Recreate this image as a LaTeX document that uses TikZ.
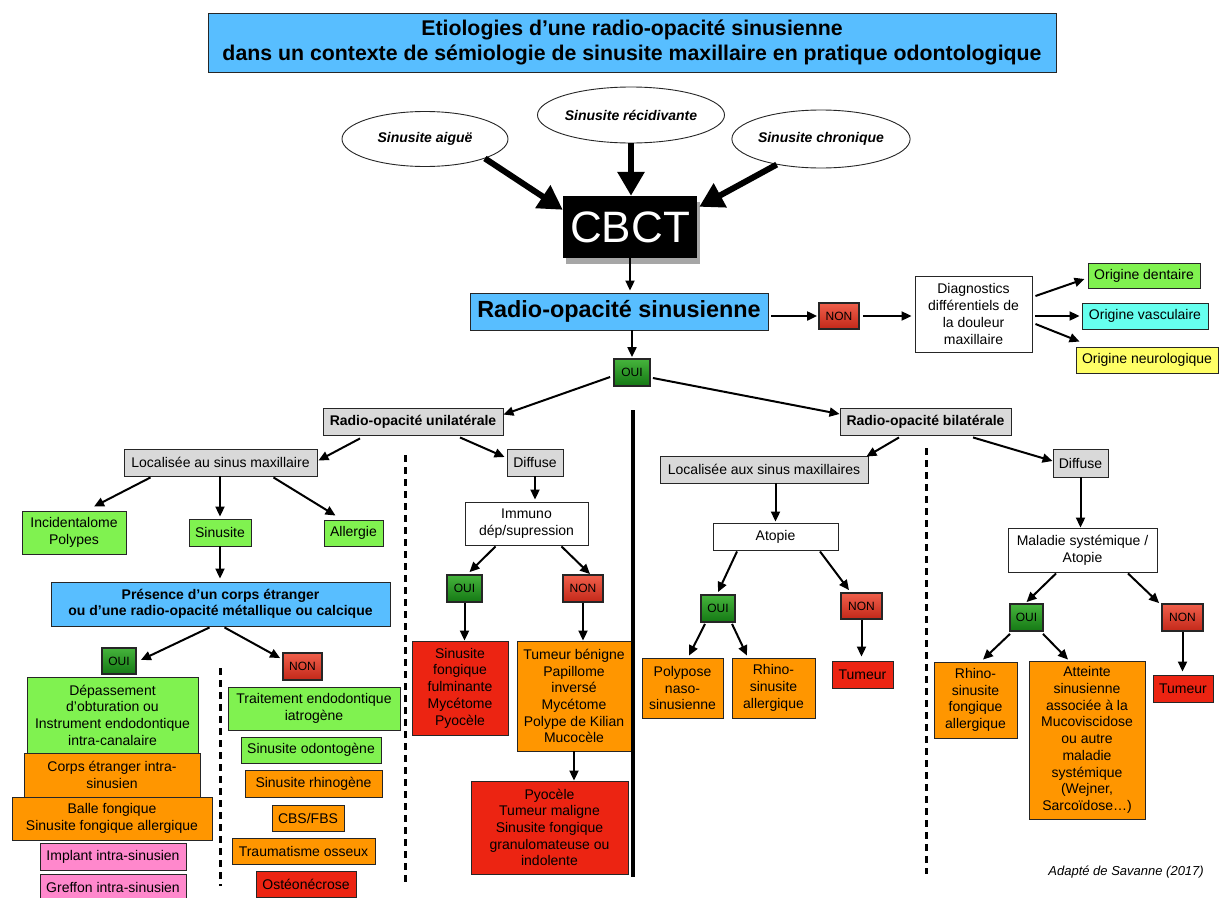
\documentclass[tikz,border=0pt]{standalone}
\usepackage{fontspec}
\setmainfont{Liberation Sans}
\usetikzlibrary{arrows.meta,shapes.geometric,shadows,calc}
\definecolor{cblue}{RGB}{88,190,255}
\definecolor{cgray}{RGB}{217,217,217}
\definecolor{cgreen}{RGB}{128,242,80}
\definecolor{corange}{RGB}{255,150,0}
\definecolor{cred}{RGB}{236,36,18}
\definecolor{cpink}{RGB}{255,136,204}
\definecolor{ccyan}{RGB}{102,255,238}
\definecolor{cyellow}{RGB}{255,255,102}
\definecolor{ouit}{RGB}{70,180,60}
\definecolor{ouib}{RGB}{20,120,20}
\definecolor{nont}{RGB}{240,95,75}
\definecolor{nonb}{RGB}{195,40,25}
\newcommand{\fs}{\fontsize{14}{16.7}\selectfont}
\begin{document}
\begin{tikzpicture}[x=1pt,y=-1pt,
  bx/.style={draw=black!85,line width=0.9pt,inner sep=1pt,align=center,font=\fs},
  bgreen/.style={bx,fill=cgreen},
  borange/.style={bx,fill=corange},
  bred/.style={bx,fill=cred},
  bpink/.style={bx,fill=cpink},
  bgray/.style={bx,fill=cgray},
  bblue/.style={bx,fill=cblue},
  bwhite/.style={bx,fill=white},
  yn/.style={draw=black!85,line width=1.8pt,inner sep=0pt,font=\fontsize{12}{13}\selectfont},
  oui/.style={yn,top color=ouit,bottom color=ouib},
  non/.style={yn,top color=nont,bottom color=nonb},
  arr/.style={line width=2pt,-{Triangle[length=10pt,width=9pt]}},
  tarr/.style={line width=6pt,-{Triangle[length=24pt,width=26pt]}},
  ell/.style={ellipse,draw=black!85,line width=0.9pt,fill=white,font=\fontsize{14}{16}\selectfont\bfseries\itshape,inner sep=0pt},
  sz/.style 2 args={minimum width=#1,minimum height=#2}
]
\fill[white] (0,0) rectangle (1220,897);
\useasboundingbox (0,0) rectangle (1220,897);

% title
\node[bblue,sz={848}{59},font=\fontsize{21.3}{25.5}\selectfont\bfseries] (title) at (632,42.5)
  {Etiologies d’une radio-opacité sinusienne\\dans un contexte de sémiologie de sinusite maxillaire en pratique odontologique};

% ellipses
\node[ell,sz={166}{55}] (e1) at (425,139) {Sinusite aiguë};
\node[ell,sz={165}{56}] (e2) at (631,115) {Sinusite récidivante};
\node[ell,sz={158}{58}] (e3) at (821,139) {Sinusite chronique};

% CBCT
\node[fill=black,text=white,sz={134}{62},inner sep=0pt,font=\fontsize{44}{44}\selectfont,
      drop shadow={shadow xshift=3pt,shadow yshift=-6pt,fill=black,opacity=0.35}] (cbct) at (630,227) {CBCT};

\node[bblue,sz={298}{37},font=\fontsize{23.4}{26}\selectfont\bfseries] (ros) at (619,311.5) {Radio-opacité sinusienne};
\node[non,sz={40}{26}] (non0) at (839,316) {NON};
\node[bwhite,sz={117}{76}] (diag) at (973.5,314) {Diagnostics\\différentiels de\\la douleur\\maxillaire};
\node[bgreen,sz={112}{25}] (odent) at (1144,275.5) {Origine dentaire};
\node[bx,fill=ccyan,sz={126}{26}] (ovasc) at (1145,316) {Origine vasculaire};
\node[bx,fill=cyellow,sz={142}{26}] (oneur) at (1147,360) {Origine neurologique};
\node[oui,sz={36}{27}] (oui0) at (632,372.5) {OUI};

\node[bgray,sz={180}{27},font=\fs\bfseries] (uni) at (413,421.5) {Radio-opacité unilatérale};
\node[bgray,sz={171}{27},font=\fs\bfseries] (bil) at (925.5,421.5) {Radio-opacité bilatérale};

% unilateral, localised
\node[bgray,sz={193}{27}] (loc) at (220.5,462.5) {Localisée au sinus maxillaire};
\node[bgreen,sz={104}{43}] (inc) at (74,532.5) {Incidentalome\\Polypes};
\node[bgreen,sz={62}{27}] (sin) at (220,532.5) {Sinusite};
\node[bgreen,sz={59}{26}] (all) at (353.5,533) {Allergie};
\node[bblue,sz={339}{44},font=\fontsize{14}{15.7}\selectfont\bfseries] (pres) at (220.5,604) {Présence d’un corps étranger\\ou d’une radio-opacité métallique ou calcique};
\node[oui,sz={34}{26}] (oui1) at (119,661) {OUI};
\node[non,sz={39}{27}] (non1) at (302.5,666.5) {NON};
\node[bgreen,sz={171}{76}] (dep) at (112.5,715) {Dépassement\\d’obturation ou\\Instrument endodontique\\intra-canalaire};
\node[borange,sz={176}{44}] (corps) at (112,775) {Corps étranger intra-\\sinusien};
\node[borange,sz={200}{43}] (balle) at (112,818.5) {Balle fongique\\Sinusite fongique allergique};
\node[bpink,sz={146}{27}] (impl) at (113,856.5) {Implant intra-sinusien};
\node[bpink,sz={146}{27}] (greff) at (113,887.5) {Greffon intra-sinusien};
\node[bgreen,sz={172}{43}] (trait) at (314,708.5) {Traitement endodontique\\iatrogène};
\node[bgreen,sz={140}{26}] (sodon) at (311,750) {Sinusite odontogène};
\node[borange,sz={137}{27}] (srhin) at (313.5,783.5) {Sinusite rhinogène};
\node[borange,sz={72}{26}] (cbs) at (308,818) {CBS/FBS};
\node[borange,sz={143}{26}] (trau) at (303.5,851) {Traumatisme osseux};
\node[bred,sz={100}{26}] (osteo) at (306,884) {Ostéonécrose};

% unilateral, diffuse
\node[bgray,sz={56}{27}] (diff1) at (535,462.5) {Diffuse};
\node[bwhite,sz={123}{43}] (immu) at (526.5,523.5) {Immuno\\dép/supression};
\node[oui,sz={35}{27}] (oui2) at (464.5,588.5) {OUI};
\node[non,sz={40}{27}] (non2) at (583,588.5) {NON};
\node[bred,sz={96}{94}] (sff) at (460,688) {Sinusite\\fongique\\fulminante\\Mycétome\\Pyocèle};
\node[borange,sz={114}{110}] (tben) at (574,696) {Tumeur bénigne\\Papillome\\inversé\\Mycétome\\Polype de Kilian\\Mucocèle};
\node[bred,sz={157}{93}] (pyo) at (549.5,827.5) {Pyocèle\\Tumeur maligne\\Sinusite fongique\\granulomateuse ou\\indolente};

% bilateral
\node[bgray,sz={208}{27}] (loc2) at (764,469.5) {Localisée aux sinus maxillaires};
\node[bgray,sz={55}{28}] (diff2) at (1080.5,463) {Diffuse};
\node[bwhite,sz={125}{27}] (atop) at (775.5,536.5) {Atopie};
\node[oui,sz={34}{27}] (oui3) at (718,608.5) {OUI};
\node[non,sz={41}{26}] (non3) at (861.5,606) {NON};
\node[bwhite,sz={149}{44}] (mal) at (1082.5,550) {Maladie systémique /\\Atopie};
\node[oui,sz={33}{27}] (oui4) at (1026.5,617.5) {OUI};
\node[non,sz={41}{27}] (non4) at (1182.5,617.5) {NON};
\node[borange,sz={81}{60}] (poly) at (682.5,688) {Polypose\\naso-\\sinusienne};
\node[borange,sz={83}{60}] (rhal) at (773.5,688) {Rhino-\\sinusite\\allergique};
\node[bred,sz={61}{27}] (tum1) at (862.5,674.5) {Tumeur};
\node[borange,sz={83}{76}] (rhfa) at (975.5,700) {Rhino-\\sinusite\\fongique\\allergique};
\node[borange,sz={116}{158}] (att) at (1087,740) {Atteinte\\sinusienne\\associée à la\\Mucoviscidose\\ou autre\\maladie\\systémique\\(Wejner,\\Sarcoïdose…)};
\node[bred,sz={60}{27}] (tum2) at (1183,688.5) {Tumeur};

\node[anchor=east,inner sep=0pt,font=\fontsize{13}{15}\selectfont\itshape] (adapt) at (1204,872) {Adapté de Savanne (2017)};

% separators
\coordinate (s1a) at (633,410); \coordinate (s1b) at (633,877);
\draw[line width=4pt] (s1a) -- (s1b);
\coordinate (d1a) at (405,455); \coordinate (d1b) at (405,886);
\coordinate (d2a) at (220,668); \coordinate (d2b) at (220,886);
\coordinate (d3a) at (926,448); \coordinate (d3b) at (926,874);
\draw[line width=3pt,dash pattern=on 7pt off 5pt] (d1a) -- (d1b);
\draw[line width=3pt,dash pattern=on 7pt off 5pt] (d2a) -- (d2b);
\draw[line width=3pt,dash pattern=on 7pt off 5pt] (d3a) -- (d3b);

% thick arrows
\draw[tarr] (e1.-18) -- ($(cbct.north west)+(0,14)$);
\draw[tarr] (e2.south) -- (e2.south |- cbct.north);
\draw[tarr] (e3.-150) -- ($(cbct.north east)+(2,11)$);

% thin arrows
\draw[arr] (cbct.south) -- ($(cbct.south |- ros.north)+(0,-2)$);
\draw[arr] ($(non0.west -| ros.east)+(3,0)$) -- ($(non0.west)+(-1,0)$);
\draw[arr] ($(non0.east)+(3,0)$) -- ($(non0.east -| diag.west)+(-3,0)$);
\draw[arr] ($(diag.east)+(3,-18)$) -- ($(odent.west)+(-3,3.5)$);
\draw[arr] ($(ovasc.west -| diag.east)+(3,0)$) -- ($(ovasc.west)+(-2,0)$);
\draw[arr] ($(diag.east)+(3,10)$) -- ($(oneur.north west)+(4,-5)$);
\draw[arr] (oui0.north |- ros.south) -- ($(oui0.north)+(0,-1)$);
\draw[arr] ($(oui0.west)+(-3,4.5)$) -- ($(uni.north east)+(0,7)$);
\draw[arr] ($(oui0.east)+(2,5.5)$) -- ($(bil.west)+(0,-7.5)$);
\draw[arr] ($(uni.south)+(-53,3)$) -- ($(loc.east)+(1,-2)$);
\draw[arr] ($(uni.south)+(47,2)$) -- ($(diff1.west)+(-2,-5.5)$);
\draw[arr] ($(loc.south)+(-70,1)$) -- ($(inc.north)+(20,-4)$);
\draw[arr] (sin.north |- loc.south) -- ($(sin.north)+(0,-2)$);
\draw[arr] ($(loc.south)+(53,1)$) -- ($(all.north)+(-18,-4)$);
\draw[arr] (sin.south) -- ($(sin.south |- pres.north)+(0,-3)$);
\draw[arr] ($(pres.south)+(-11,1)$) -- ($(oui1.east)+(4,-1)$);
\draw[arr] ($(pres.south)+(4,1)$) -- ($(non1.north west)+(-2,6)$);
\draw[arr] (diff1.south) -- ($(diff1.south |- immu.north)+(0,-2)$);
\draw[arr] ($(immu.south)+(-31,1)$) -- ($(oui2.north)+(5,-2)$);
\draw[arr] ($(immu.south)+(35,1)$) -- ($(non2.north)+(7,0)$);
\draw[arr] (oui2.south) -- (oui2.south |- sff.north);
\draw[arr] (non2.south) -- (non2.south |- tben.north);
\draw[arr] (tben.south) -- (tben.south |- pyo.north);
\draw[arr] ($(bil.south)+(-26.5,2)$) -- ($(loc2.north east)+(-2,1)$);
\draw[arr] ($(bil.south)+(47.5,2)$) -- ($(diff2.west)+(0,-2)$);
\draw[arr] (atop.north |- loc2.south) -- ($(atop.north)+(0,-1)$);
\draw[arr] ($(atop.south)+(-38.5,1)$) -- ($(oui3.north)+(0,-2)$);
\draw[arr] ($(atop.south)+(44.5,1)$) -- ($(non3.north)+(-12.5,-2)$);
\draw[arr] (diff2.south) -- (diff2.south |- mal.north);
\draw[arr] ($(mal.south)+(-26.5,1)$) -- ($(oui4.north)+(0,-1)$);
\draw[arr] ($(mal.south)+(45.5,1)$) -- ($(non4.north west)+(-2,0)$);
\draw[arr] ($(oui3.south)+(-13,1)$) -- ($(poly.north)+(6.5,-2)$);
\draw[arr] ($(oui3.south)+(14,1)$) -- ($(rhal.north)+(-26.5,-2)$);
\draw[arr] (non3.south) -- ($(non3.south |- tum1.north)+(0,-4)$);
\draw[arr] ($(oui4.south)+(-16.5,2)$) -- ($(rhfa.north)+(7.5,-2)$);
\draw[arr] ($(oui4.south)+(16.5,2)$) -- ($(att.north)+(-19,-1)$);
\draw[arr] (non4.south) -- ($(non4.south |- tum2.north)+(0,-3)$);
\end{tikzpicture}
\end{document}
